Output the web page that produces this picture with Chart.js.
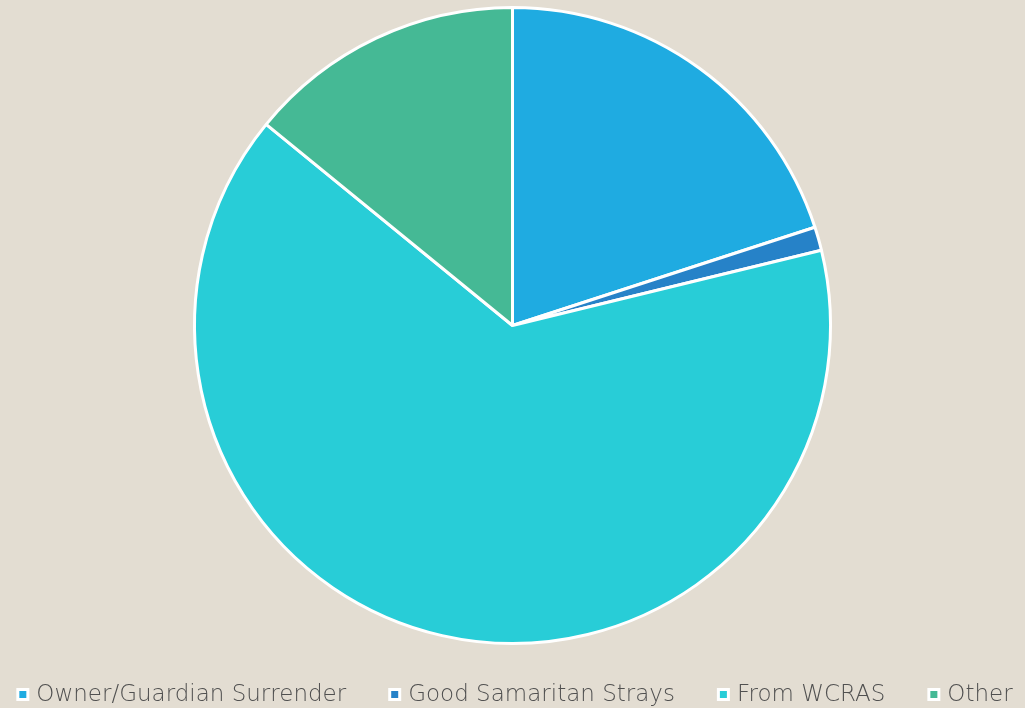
<!DOCTYPE html>
<html>
<head>
<meta charset="utf-8">
<script src="https://cdn.jsdelivr.net/npm/chart.js@4"></script>
<style>
html,body{margin:0;padding:0;background:#E3DDD2;}
#wrap{width:1025px;height:708px;position:relative;}
</style>
</head>
<body>
<div id="wrap"><canvas id="c" width="1025" height="708"></canvas></div>
<script>
const categories = ["Owner/Guardian Surrender", "Good Samaritan Strays", "From WCRAS", "Other"];
const values = [20.0, 1.2, 64.7, 14.1];
const colors = ["#1FABE1", "#2682C8", "#28CDD7", "#45B995"];

const bottomLegend = {
  id: 'bottomLegend',
  afterDraw(chart) {
    const ctx = chart.ctx;
    const labels = chart.data.labels;
    const bg = chart.data.datasets[0].backgroundColor;
    ctx.save();
    ctx.font = '300 23px "DejaVu Sans"';
    const box = 13, textGap = 7, gap = 42;
    const widths = labels.map(l => box + textGap + ctx.measureText(l).width);
    const total = widths.reduce((a, b) => a + b, 0) + gap * (labels.length - 1);
    let x = (chart.width - total) / 2 + 2;
    const y = 695;
    labels.forEach((l, i) => {
      ctx.fillStyle = '#ffffff';
      ctx.fillRect(x, y - 7, box, box);
      ctx.fillStyle = bg[i];
      ctx.fillRect(x + 3, y - 4, box - 6, box - 6);
      ctx.fillStyle = '#505050';
      ctx.textBaseline = 'middle';
      ctx.textAlign = 'left';
      ctx.fillText(l, x + box + textGap, y);
      x += widths[i] + gap;
    });
    ctx.restore();
  }
};

new Chart(document.getElementById('c'), {
  type: 'pie',
  data: {
    labels: categories,
    datasets: [{
      data: values,
      backgroundColor: colors,
      borderColor: '#ffffff',
      borderWidth: 3
    }]
  },
  options: {
    responsive: false,
    animation: false,
    layout: { padding: { top: 6, bottom: 63, left: 0, right: 0 } },
    plugins: {
      legend: { display: false },
      tooltip: { enabled: false }
    }
  },
  plugins: [bottomLegend]
});
</script>
</body>
</html>
